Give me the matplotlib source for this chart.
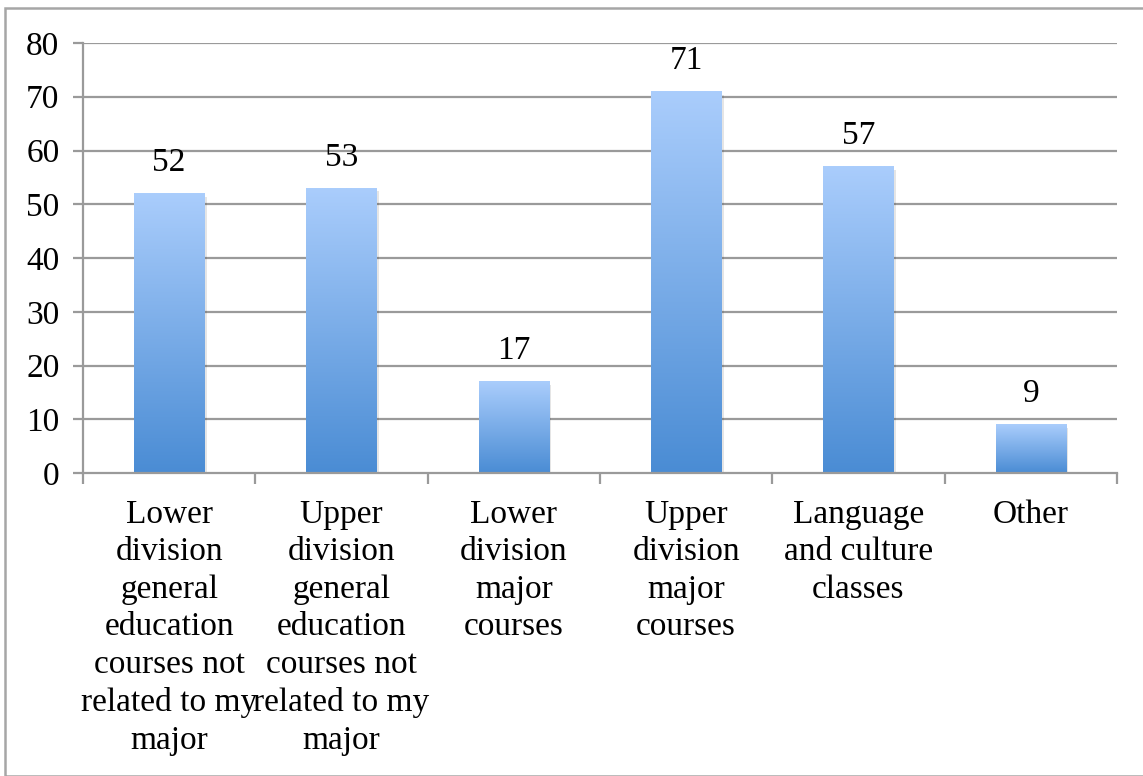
import numpy as np
import matplotlib
matplotlib.use("Agg")
import matplotlib.pyplot as plt
from matplotlib.colors import LinearSegmentedColormap
from matplotlib.patches import Rectangle

categories = [
    "Lower\ndivision\ngeneral\neducation\ncourses not\nrelated to my\nmajor",
    "Upper\ndivision\ngeneral\neducation\ncourses not\nrelated to my\nmajor",
    "Lower\ndivision\nmajor\ncourses",
    "Upper\ndivision\nmajor\ncourses",
    "Language\nand culture\nclasses",
    "Other",
]
values = [52, 53, 17, 71, 57, 9]
yticks = [0, 10, 20, 30, 40, 50, 60, 70, 80]

plt.rcParams['font.family'] = ['Liberation Serif', 'DejaVu Serif']
FS = 24

fig = plt.figure(figsize=(11.43, 7.76), dpi=100)
fig.patches.append(Rectangle((5/1143, 0), 1.2, 1 - 8/776, transform=fig.transFigure,
                             fill=False, edgecolor='#a6a6a6', linewidth=1.8))
ax = fig.add_axes([83/1143, 1 - 473/776, (1117-83)/1143, (473-43)/776])

grid_c = '#9a9a9a'
n = len(values)
ax.set_xlim(0.5, n + 0.5)
ax.set_ylim(0, 80)
ax.set_yticks(yticks)
ax.set_yticklabels([str(t) for t in yticks], fontsize=FS)
for t in yticks[1:]:
    ax.axhline(t, color=grid_c, lw=1.6, zorder=1)

cmap = LinearSegmentedColormap.from_list('g', ['#4a8cd4', '#aacdfc'])
grad = np.linspace(0, 1, 256).reshape(-1, 1)
width = 0.41
x = np.arange(1, n + 1)
for xi, v in zip(x, values):
    # subtle shadow
    ax.add_patch(Rectangle((xi - width/2 + 0.012, -0.6), width, v, facecolor='#000000',
                           alpha=0.10, edgecolor='none', zorder=2))
    ax.imshow(grad, extent=(xi - width/2, xi + width/2, 0, v), origin='lower',
              cmap=cmap, aspect='auto', zorder=3, interpolation='bilinear')
    ax.annotate(str(v), (xi, v), xytext=(0, 11), textcoords='offset points',
                ha='center', va='bottom', fontsize=FS)

ax.set_xticks(np.arange(0.5, n + 1.5, 1.0))
ax.set_xticklabels([])
ax.tick_params(axis='x', length=8, width=1.6, color=grid_c, direction='out')
ax.tick_params(axis='y', length=7, width=1.6, color=grid_c, direction='out', pad=10)
for xi, lab in zip(x, categories):
    ax.text(xi, -4.9, lab, ha='center', va='top', fontsize=FS, linespacing=1.30,
            transform=ax.transData)

for s in ['top', 'right']:
    ax.spines[s].set_visible(False)
for s in ['left', 'bottom']:
    ax.spines[s].set_color(grid_c)
    ax.spines[s].set_linewidth(1.6)
    ax.spines[s].set_zorder(5)

fig.savefig('out.png', dpi=100)
